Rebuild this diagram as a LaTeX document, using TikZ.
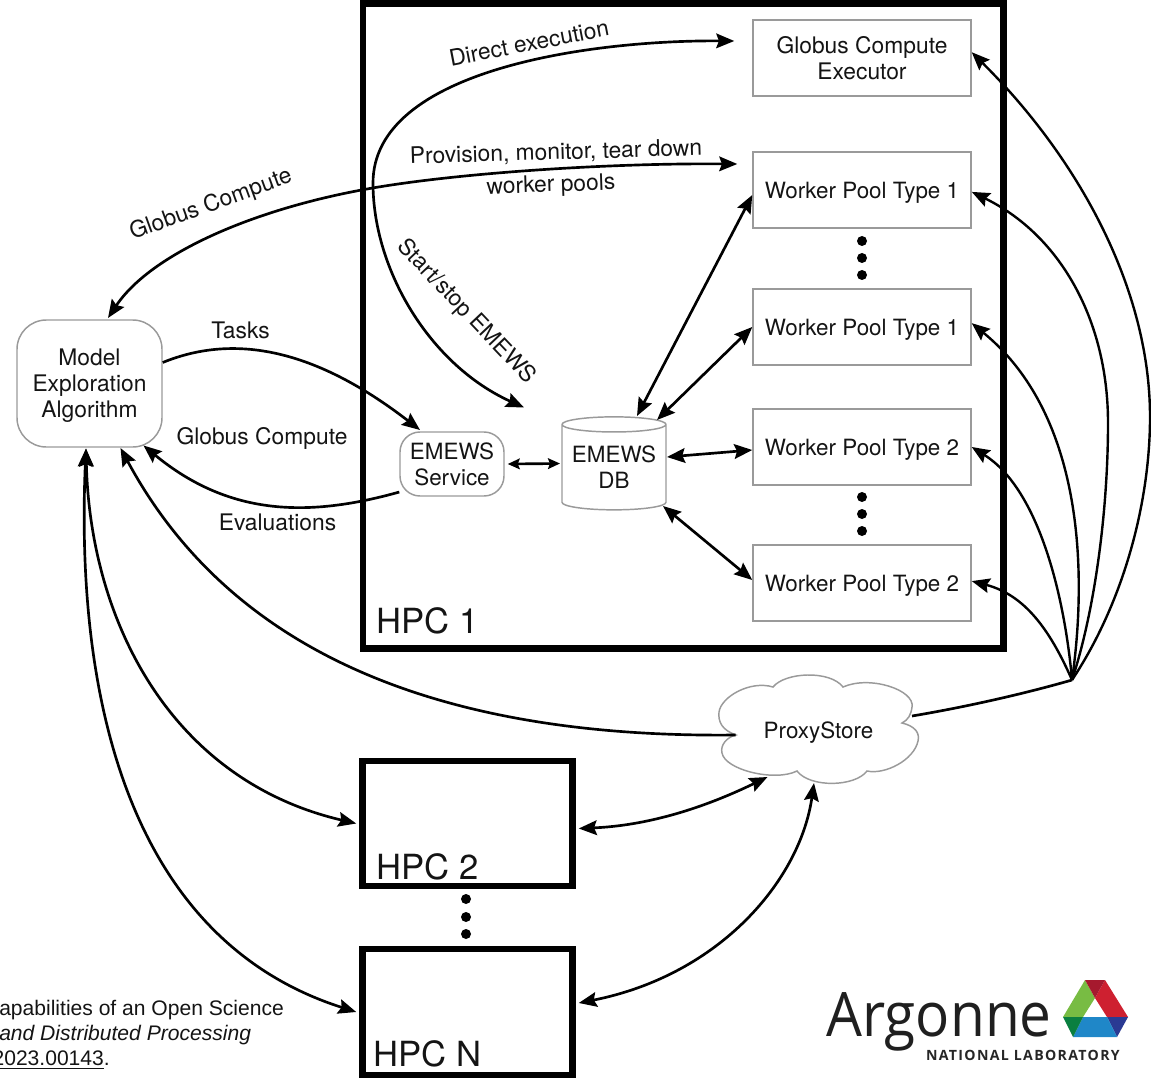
\documentclass[tikz,border=0pt]{standalone}
\usepackage{fontspec}
\setmainfont{TeX Gyre Heros}
\newfontfamily\citefont{Liberation Sans}
\newfontfamily\logofont{Open Sans}
\newfontfamily\logospaced[LetterSpace=9.4]{Open Sans}
\usetikzlibrary{arrows.meta,shapes.geometric}
\def\px{0.75pt}
\definecolor{boxgray}{HTML}{9A9A9A}
\definecolor{ink}{HTML}{141414}
\tikzset{
  x=0.75pt,y=-0.75pt,
  every node/.style={text=ink,font=\fontsize{17.1}{19.5}\selectfont,align=center,inner sep=0pt},
  grayrect/.style={draw=boxgray,line width=1.1pt,rectangle,minimum width=218*\px,minimum height=76*\px},
  wptext/.style={grayrect,text depth=0pt,font=\fontsize{16.8}{19.5}\selectfont},
  softbox/.style={draw=boxgray,line width=1.1pt,rectangle},
  hpcbox/.style={draw=black,line width=4.9pt,rectangle,minimum width=210*\px,minimum height=126*\px},
  hpclabel/.style={font=\fontsize{26}{30}\selectfont,anchor=west},
  dotmark/.style={circle,fill=black,minimum size=10*\px},
  link/.style={line width=2pt,draw=black},
  onearrow/.style={link,-{Stealth[length=13.5pt,width=11pt,inset=2pt]}},
  twoarrow/.style={link,{Stealth[length=13.5pt,width=11pt,inset=2pt]}-{Stealth[length=13.5pt,width=11pt,inset=2pt]}},
  smallarrow/.style={link,{Stealth[length=9pt,width=8pt,inset=1.5pt]}-{Stealth[length=9pt,width=8pt,inset=1.5pt]}},
}
\begin{document}
\begin{tikzpicture}
\path[use as bounding box] (0,0) rectangle (1151,1080);
% HPC frames
\node[hpcbox,minimum width=640.5*\px,minimum height=645*\px] (hpc1) at (683.25,326) {};
\node[hpcbox,minimum height=125*\px] (hpc2) at (467.5,823.5) {};
\node[hpcbox] (hpcn) at (467.5,1012) {};
\node[hpclabel] (hpc1t) at (376,621) {HPC 1};
\node[hpclabel] (hpc2t) at (376,867) {HPC 2};
\node[hpclabel] (hpcnt) at (373,1054) {HPC N};
% Boxes
\node[grayrect] (compute) at (862,58) {Globus Compute\\Executor};
\node[wptext] (wpa) at (862,190) {Worker Pool Type 1};
\node[wptext] (wpb) at (862,327) {Worker Pool Type 1};
\node[wptext] (wpc) at (862,447) {Worker Pool Type 2};
\node[wptext] (wpd) at (862,583) {Worker Pool Type 2};
\node[softbox,rounded corners=22pt,minimum width=145*\px,minimum height=127*\px,text depth=0pt] (mea) at (89.5,383.5) {Model\\Exploration\\Algorithm};
\node[softbox,rounded corners=15pt,minimum width=104*\px,minimum height=64*\px,font=\fontsize{16.8}{19.5}\selectfont] (svc) at (452,464) {EMEWS\\Service};
\node[cylinder,draw=boxgray,line width=1.1pt,shape border rotate=90,aspect=0.18,minimum width=104*\px,minimum height=93*\px,text depth=0pt,font=\fontsize{16.8}{19.5}\selectfont] (db) at (614,467.5) {EMEWS\\DB};
% Cloud
\draw[boxgray,line width=1.1pt,fill=white]
  (736,735) .. controls (722,730) and (718,722) .. (719,712)
  .. controls (721,697) and (750,680) .. (773,687)
  .. controls (785,672) and (830,670) .. (843,687)
  .. controls (870,675) and (915,690) .. (912,707)
  .. controls (911,715) and (908,720) .. (902,723)
  .. controls (915,726) and (920,733) .. (918,741)
  .. controls (914,760) and (885,775) .. (867,771)
  .. controls (855,787) and (810,788) .. (797,771)
  .. controls (775,782) and (725,770) .. (722,753)
  .. controls (720,745) and (727,737) .. (736,735) -- cycle;
\node[text depth=0pt,font=\fontsize{16.8}{19.5}\selectfont] (proxy) at (818.5,730) {ProxyStore};
\coordinate (hub) at (1072,680);
% Dots
\foreach \n/\cx/\cy in {a/862/241,b/862/258,c/862/275,d/862/497,e/862/514,f/862/531,g/466/899,h/466/917,i/466/934}
  \node[dotmark] (dot\n) at (\cx,\cy) {};
% Labels
\node[rotate=11] (lbldirect) at (529,43) {Direct execution};
\node[rotate=1.7] (lblprov) at (556,153) {Provision, monitor, tear down};
\node[rotate=2] (lblwork) at (551,186) {worker pools};
\node[rotate=-46.5] (lblstart) at (466,312) {Start/stop EMEWS};
\node[rotate=20] (lblglobusa) at (211,205) {Globus Compute};
\node (lbltasks) at (240.5,330) {Tasks};
\node (lblglobusb) at (262,438) {Globus Compute};
\node (lbleval) at (277.5,522) {Evaluations};
% Connectors in HPC 1
\draw[twoarrow] ([shift={(-18,-17)}]compute.west) .. controls (590,40) and (373,70) .. (373,183)
  .. controls (373,270) and (430,365) .. ([shift={(-90,-60)}]db.center);
\draw[twoarrow] ([shift={(18.5,-65.5)}]mea.center) .. controls (150,255) and (250,210) .. (367,189)
  .. controls (450,174) and (600,163) .. ([shift={(-15,-26)}]wpa.west);
\draw[onearrow] (mea.16) .. controls (230,335) and (310,345) .. ([shift={(-32,-34)}]svc.center);
\draw[onearrow] (svc.208) .. controls (310,517) and (230,517) .. ([shift={(54,62)}]mea.center);
\draw[smallarrow] ([xshift=3*\px]svc.east) -- ([shift={(-54,-4)}]db.center);
\draw[twoarrow] ([shift={(23,-51.5)}]db.center) -- ([yshift=-5*\px]wpa.west);
\draw[twoarrow] ([shift={(43,-47.5)}]db.center) -- (wpb.west);
\draw[twoarrow] ([shift={(53,-10.5)}]db.center) -- ([yshift=-3*\px]wpc.west);
\draw[twoarrow] ([shift={(49,38.5)}]db.center) -- ([yshift=3*\px]wpd.west);
% Fan from ProxyStore
\draw[link] ([shift={(93.5,-14)}]proxy.center) .. controls (960,708) and (1020,695) .. (hub);
\draw[onearrow,line width=1.8pt] (hub) .. controls (1125,600) and (1150,500) .. (1150,417)
  .. controls (1150,290) and (1080,160) .. (compute.3);
\draw[onearrow,line width=1.8pt] (hub) .. controls (1095,610) and (1108,510) .. (1108,423)
  .. controls (1108,320) and (1060,235) .. (wpa.-1.6);
\draw[onearrow,line width=1.8pt] (hub) .. controls (1085,590) and (1090,420) .. (wpb.2.6);
\draw[onearrow,line width=1.8pt] (hub) .. controls (1065,600) and (1040,490) .. (wpc.east);
\draw[onearrow,line width=1.8pt] (hub) .. controls (1050,630) and (1025,595) .. (wpd.1);
% Outer connectors
\draw[onearrow] ([shift={(-83,5)}]proxy.center) .. controls (470,738) and (240,670) .. ([shift={(31,64.5)}]mea.center);
\draw[twoarrow] ([shift={(-3.5,65)}]mea.center) .. controls (90,620) and (170,780) .. ([xshift=-3*\px]hpc2.west);
\draw[twoarrow] ([shift={(-3.5,65)}]mea.center) .. controls (75,700) and (130,940) .. ([xshift=-3*\px]hpcn.west);
\draw[twoarrow] ([shift={(-51,47)}]proxy.center) .. controls (720,800) and (660,825) .. ([shift={(3,5)}]hpc2.east);
\draw[twoarrow] ([shift={(-4.5,53)}]proxy.center) .. controls (800,880) and (720,975) .. ([shift={(3,-9)}]hpcn.east);
% Citation
\node[anchor=west,font=\citefont\fontsize{15.8}{17}\selectfont] (citea) at (-1,1010) {apabilities of an Open Science};
\node[anchor=west,font=\citefont\itshape\fontsize{15.8}{17}\selectfont] (citeb) at (-1,1035) {and Distributed Processing};
\node[anchor=east,font=\citefont\fontsize{15.8}{17}\selectfont] (citec) at (110,1060) {\underline{2023.00143}.};
% Argonne logo
\node[anchor=base west,font=\logofont\fontsize{46}{50}\selectfont,text=black!88,xscale=0.925] (argonne) at (826,1036) {Argonne};
\node[anchor=base east,font=\logospaced\bfseries\fontsize{10.6}{12}\selectfont,text=black!85] (natlab) at (1120,1060) {NATIONAL LABORATORY};
\fill[fill={rgb,255:red,120;green,188;blue,67}] (1085,980) -- (1095,998) -- (1083,1017) -- (1063,1017) -- cycle;
\fill[fill={rgb,255:red,206;green,32;blue,48}] (1105,980) -- (1128,1017) -- (1107,1017) -- (1095,998) -- cycle;
\fill[fill={rgb,255:red,166;green,25;blue,46}] (1085,980) -- (1105,980) -- (1095,998) -- cycle;
\fill[fill={rgb,255:red,42;green,58;blue,147}] (1128,1017) -- (1117,1037) -- (1107,1017) -- cycle;
\fill[fill={rgb,255:red,31;green,135;blue,200}] (1083,1017) -- (1107,1017) -- (1117,1037) -- (1073,1037) -- cycle;
\fill[fill={rgb,255:red,10;green,127;blue,64}] (1063,1017) -- (1083,1017) -- (1073,1037) -- cycle;
\end{tikzpicture}
\end{document}
